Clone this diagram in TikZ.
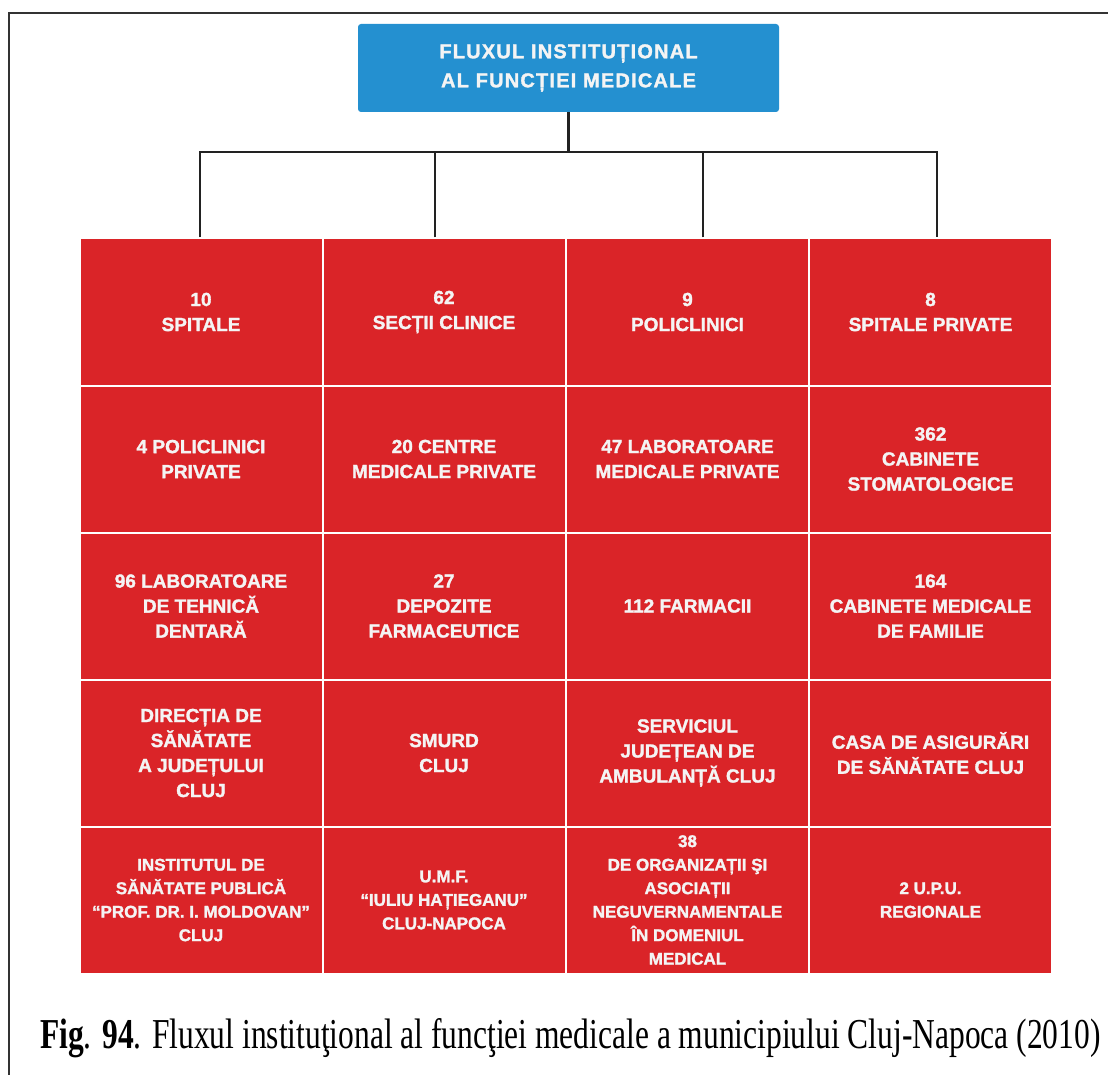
\documentclass[tikz,border=0pt]{standalone}
\usepackage{fontspec}
\setmainfont{Liberation Serif}
\newfontfamily\cellsans{Liberation Sans}[BoldFeatures={FakeBold=1.6}]
\newfontfamily\topsans{Liberation Sans}[LetterSpace=6,BoldFeatures={FakeBold=1.6}]
\definecolor{cellred}{HTML}{DA2428}
\definecolor{topblue}{HTML}{2490D0}
\definecolor{txt}{HTML}{F4F4F4}
\definecolor{frame}{HTML}{333333}
\definecolor{conncol}{HTML}{222222}
\begin{document}
\begin{tikzpicture}[x=1pt,y=-1pt,
  cell/.style={draw=white, line width=2pt, fill=cellred, minimum width=243pt,
    minimum height=147pt, inner sep=0pt, align=center, text=txt,
    font=\cellsans\bfseries\fontsize{19}{25}\selectfont},
  smallcell/.style={cell, font=\cellsans\bfseries\fontsize{17}{23.5}\selectfont},
  topbox/.style={fill=topblue, rounded corners=3pt, minimum width=421pt,
    minimum height=88pt, inner sep=0pt, align=center, text=txt,
    font=\topsans\bfseries\fontsize{20}{29}\selectfont},
  conn/.style={draw=conncol, line width=2.8pt},
  frameline/.style={draw=frame, line width=2pt}]
\useasboundingbox (0,0) rectangle (1108,1075);
\fill[white] (0,0) rectangle (1108,1075);
% page frame (cut by the picture edge)
\draw[frameline] (9,1075) -- (9,13) -- (1108,13);

\node[topbox] (top) at (568.5,68) {FLUXUL INSTITUȚIONAL\\AL FUNCȚIEI MEDICALE};

% row 1
\node[cell] (c11) at (201,312) {10\\SPITALE};
\node[cell] (c12) at (444,312) {62\\SECȚII CLINICE};
\node[cell] (c13) at (687.5,312) {9\\POLICLINICI};
\node[cell] (c14) at (930.5,312) {8\\SPITALE PRIVATE};
% row 2
\node[cell] (c21) at (201,459) {4 POLICLINICI\\PRIVATE};
\node[cell] (c22) at (444,459) {20 CENTRE\\MEDICALE PRIVATE};
\node[cell] (c23) at (687.5,459) {47 LABORATOARE\\MEDICALE PRIVATE};
\node[cell] (c24) at (930.5,459) {362\\CABINETE\\STOMATOLOGICE};
% row 3
\node[cell] (c31) at (201,606) {96 LABORATOARE\\DE TEHNICĂ\\DENTARĂ};
\node[cell] (c32) at (444,606) {27\\DEPOZITE\\FARMACEUTICE};
\node[cell] (c33) at (687.5,606) {112 FARMACII};
\node[cell] (c34) at (930.5,606) {164\\CABINETE MEDICALE\\DE FAMILIE};
% row 4
\node[cell] (c41) at (201,753) {DIRECȚIA DE\\SĂNĂTATE\\A JUDEȚULUI\\CLUJ};
\node[cell] (c42) at (444,753) {SMURD\\CLUJ};
\node[cell] (c43) at (687.5,753) {SERVICIUL\\JUDEȚEAN DE\\AMBULANȚĂ CLUJ};
\node[cell] (c44) at (930.5,753) {CASA DE ASIGURĂRI\\DE SĂNĂTATE CLUJ};
% row 5
\node[smallcell] (c51) at (201,900) {INSTITUTUL DE\\SĂNĂTATE PUBLICĂ\\“PROF. DR. I. MOLDOVAN”\\CLUJ};
\node[smallcell] (c52) at (444,900) {U.M.F.\\“IULIU HAȚIEGANU”\\CLUJ-NAPOCA};
\node[smallcell] (c53) at (687.5,900) {38\\DE ORGANIZAȚII ŞI\\ASOCIAȚII\\NEGUVERNAMENTALE\\ÎN DOMENIUL\\MEDICAL};
\node[smallcell] (c54) at (930.5,900) {2 U.P.U.\\REGIONALE};

% connectors
\coordinate (bus) at (0,152);
\coordinate (d1) at ([xshift=-1pt]c11.north);
\coordinate (d2) at ([xshift=-9pt]c12.north);
\coordinate (d3) at ([xshift=15.5pt]c13.north);
\coordinate (d4) at ([xshift=6.5pt]c14.north);
\draw[conn] (top.south) -- (top.south |- bus);
\draw[conn, line join=miter] (d1) -- (d1 |- bus) -- (d4 |- bus) -- (d4);
\draw[conn] (d2) -- (d2 |- bus);
\draw[conn] (d3) -- (d3 |- bus);

% caption
\node[anchor=base west, inner sep=0pt] (cap) at (40,1048)
  {\resizebox{1060pt}{30pt}{\textbf{Fig}. \textbf{94}. Fluxul instituţional al funcţiei medicale a municipiului Cluj-Napoca (2010)}};
\end{tikzpicture}
\end{document}
